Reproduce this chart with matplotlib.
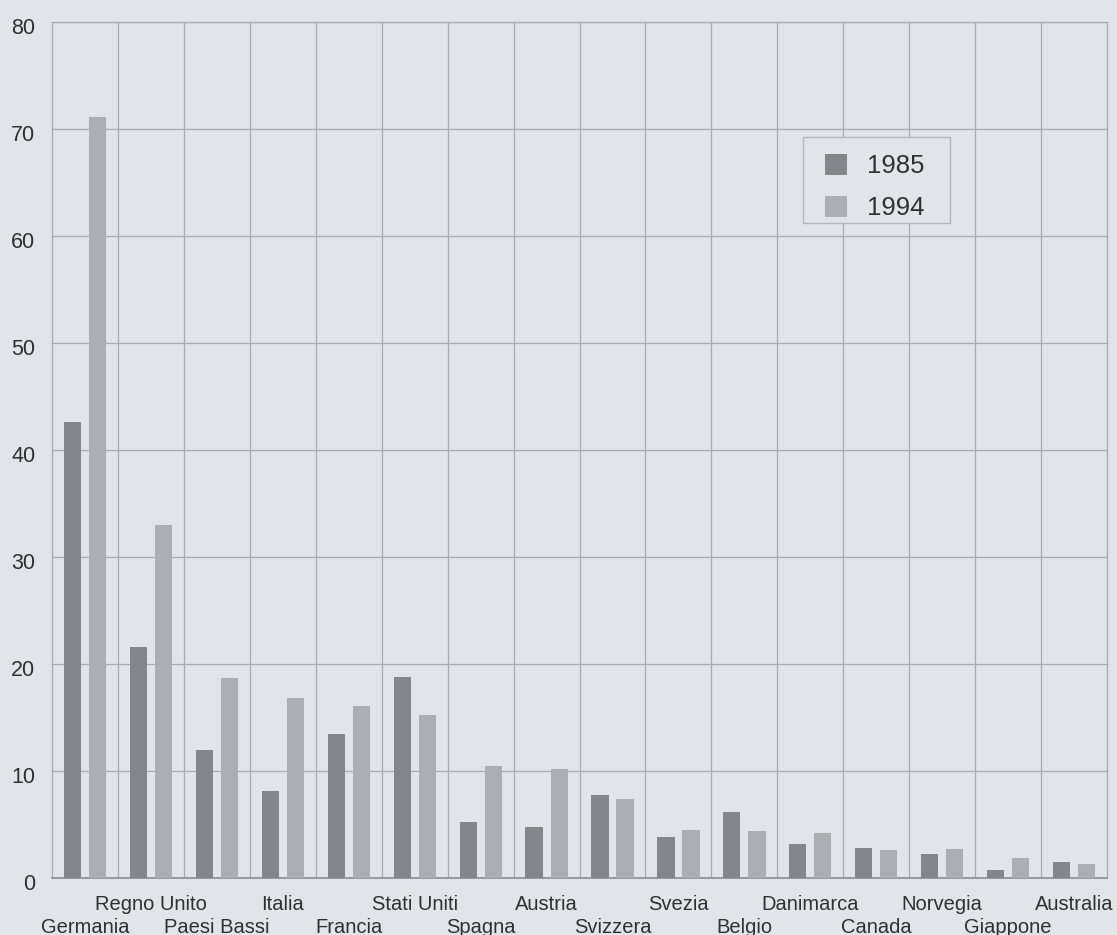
import matplotlib
matplotlib.use('Agg')
import matplotlib.pyplot as plt
import matplotlib.transforms as mtransforms
from matplotlib.patches import Rectangle
import numpy as np

plt.rcParams['font.family'] = ['Liberation Sans', 'DejaVu Sans']

countries = ['Germania', 'Regno Unito', 'Paesi Bassi', 'Italia', 'Francia',
             'Stati Uniti', 'Spagna', 'Austria', 'Svizzera', 'Svezia',
             'Belgio', 'Danimarca', 'Canada', 'Norvegia', 'Giappone', 'Australia']
val_1985 = [42.6, 21.6, 12.0, 8.1, 13.5, 18.8, 5.2, 4.8, 7.8, 3.8, 6.2, 3.2, 2.8, 2.2, 0.7, 1.5]
val_1994 = [71.1, 33.0, 18.7, 16.8, 16.1, 15.2, 10.5, 10.2, 7.4, 4.5, 4.4, 4.2, 2.6, 2.7, 1.9, 1.3]
y_ticks = [0, 10, 20, 30, 40, 50, 60, 70, 80]

bg = '#e3e4ea'
dark = '#85868b'
light = '#adaeb3'
grid_col = '#a9aab0'
txt = '#303030'

fig = plt.figure(figsize=(11.17, 9.35), dpi=100, facecolor=bg)
ax = fig.add_axes([0.0466, 0.061, 0.9445, 0.9155], facecolor=bg)

x = np.arange(len(countries))
w = 0.26
ax.bar(x - 0.19, val_1985, w, color=dark, label='1985', zorder=3)
ax.bar(x + 0.19, val_1994, w, color=light, label='1994', zorder=3)

ax.set_xlim(-0.5, len(countries) - 0.5)
ax.set_ylim(0, 80)
ax.set_yticks(y_ticks)
ax.tick_params(axis='y', length=0, pad=12, labelsize=15.5, labelcolor=txt)
# numbers sit a little below their gridline in the original
shift = mtransforms.ScaledTranslation(0, -4 / 100, fig.dpi_scale_trans)
for lbl in ax.get_yticklabels():
    lbl.set_transform(lbl.get_transform() + shift)

# vertical lines between the groups
for b in np.arange(0.5, len(countries) - 0.5, 1):
    ax.axvline(b, color=grid_col, lw=0.9, zorder=1)
ax.yaxis.grid(True, color=grid_col, lw=0.9, zorder=1)

for side in ['left', 'right', 'top']:
    ax.spines[side].set_color(grid_col)
    ax.spines[side].set_linewidth(0.9)
ax.spines['bottom'].set_color('#8a8b90')
ax.spines['bottom'].set_linewidth(1.2)

# staggered category labels: odd ones on the upper row, even ones below
ax.set_xticks(x[1::2])
ax.set_xticklabels(countries[1::2])
ax.set_xticks(x[0::2], minor=True)
ax.set_xticklabels(countries[0::2], minor=True)
ax.tick_params(axis='x', which='major', length=0, pad=12, labelsize=14.5, labelcolor=txt)
ax.tick_params(axis='x', which='minor', length=0, pad=28.5, labelsize=14.5, labelcolor=txt)

# legend drawn without its own frame, box added separately
leg = ax.legend(loc='upper left', bbox_to_anchor=(0.7327, 0.8455), fontsize=18.5,
                frameon=False, handlelength=0.85, handleheight=0.85,
                handletextpad=0.78, labelspacing=0.7, borderpad=0, borderaxespad=0)
for t in leg.get_texts():
    t.set_color(txt)
ax.add_patch(Rectangle((0.7118, 0.7652), 0.1394, 0.1005, transform=ax.transAxes,
                       facecolor=bg, edgecolor='#b5b6bb', lw=1.0, zorder=4))
leg.set_zorder(5)

fig.savefig('out.png', dpi=100, facecolor=bg)
